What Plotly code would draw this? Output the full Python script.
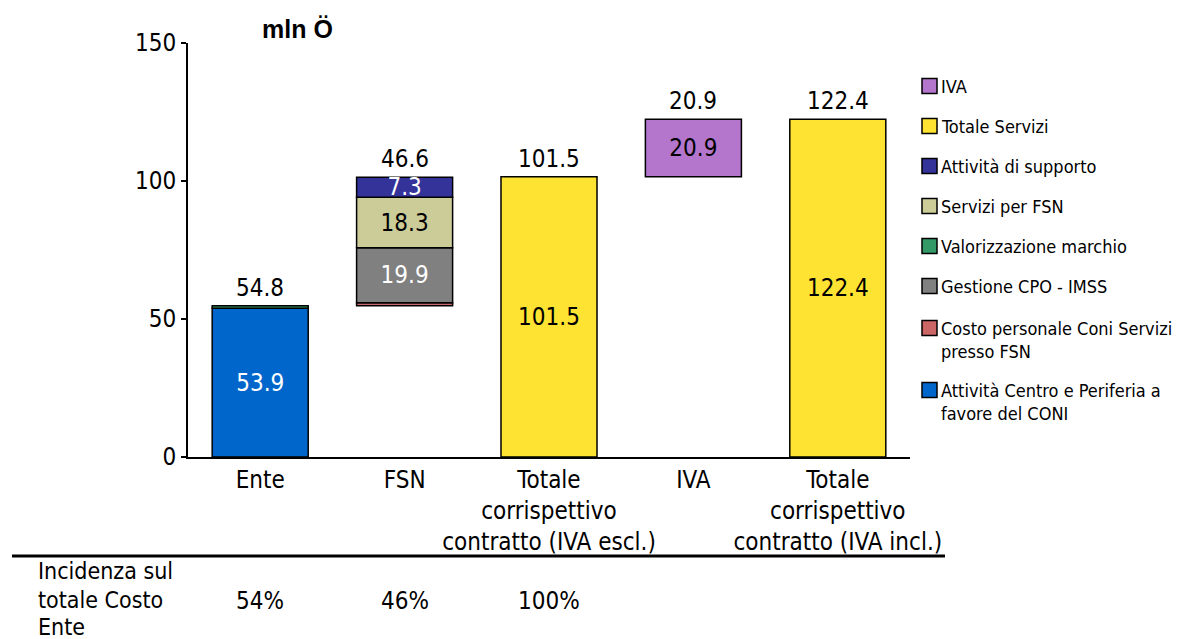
import plotly.graph_objects as go

# categories on the x axis
categories = ["Ente", "FSN", "Totale<br>corrispettivo<br>contratto (IVA escl.)",
              "IVA", "Totale<br>corrispettivo<br>contratto (IVA incl.)"]

# segment values (mln)
attivita_centro = [53.9, None, None, None, None]
valorizzazione = [0.9, None, None, None, None]
costo_personale = [None, 1.1, None, None, None]
gestione_cpo = [None, 19.9, None, None, None]
servizi_fsn = [None, 18.3, None, None, None]
attivita_supporto = [None, 7.3, None, None, None]
totale_servizi = [None, None, 101.5, None, 122.4]
iva = [None, None, None, 20.9, None]

# labels written above each column
totals = [54.8, 46.6, 101.5, 20.9, 122.4]
incidenza = ["54%", "46%", "100%"]
incidenza_label = ["Incidenza sul", "totale Costo", "Ente"]

FONT = "DejaVu Sans Condensed, DejaVu Sans, sans-serif"

# series in stacking order (bottom -> top); name, values, color, text color, show text
series = [
    ("Attività Centro e Periferia a<br>favore del CONI", attivita_centro, "#0066CC", "white", True),
    ("Valorizzazione marchio", valorizzazione, "#339966", "white", False),
    ("Costo personale Coni Servizi<br>presso FSN", costo_personale, "#CC6666", "white", False),
    ("Gestione CPO - IMSS", gestione_cpo, "#808080", "white", True),
    ("Servizi per FSN", servizi_fsn, "#CCCC99", "black", True),
    ("Attività di supporto", attivita_supporto, "#333399", "white", True),
    ("Totale Servizi", totale_servizi, "#FFE333", "black", True),
    ("IVA", iva, "#B376CC", "black", True),
]
# order of the entries in the legend (top -> bottom)
legend_order = ["IVA", "Totale Servizi", "Attività di supporto", "Servizi per FSN",
                "Valorizzazione marchio", "Gestione CPO - IMSS",
                "Costo personale Coni Servizi<br>presso FSN",
                "Attività Centro e Periferia a<br>favore del CONI"]

xs = list(range(len(categories)))

# waterfall: FSN starts at the top of Ente, IVA on top of the excl. total
level = [0.0] * len(categories)
level[1] = attivita_centro[0] + valorizzazione[0]
level[3] = totale_servizi[2]

fig = go.Figure()
tops = list(level)
for name, vals, color, tcolor, show_text in series:
    bx, by, bb, bt = [], [], [], []
    for i, v in enumerate(vals):
        if v is None:
            continue
        bx.append(i)
        by.append(v)
        bb.append(tops[i])
        bt.append(f"{v:.1f}" if show_text else "")
        tops[i] += v
    fig.add_trace(go.Bar(
        x=bx, y=by, base=bb, name=name,
        width=0.665,
        marker=dict(color=color, line=dict(color="black", width=1.5)),
        text=bt, textposition="inside", insidetextanchor="middle",
        textangle=0, constraintext="none",
        textfont=dict(color=tcolor, size=24, family=FONT),
        cliponaxis=False, showlegend=False,
    ))

shapes = []
annotations = []

# totals above the columns
for i, t in enumerate(totals):
    annotations.append(dict(text=f"{t:.1f}", x=i, y=tops[i], xref="x", yref="y",
                            xanchor="center", yanchor="bottom", yshift=2,
                            showarrow=False,
                            font=dict(size=24, family=FONT, color="black")))

# hand-made legend on the right (pixel positions relative to the plot box)
colors = {s[0]: s[2] for s in series}
row_y = [86, 126, 166, 206, 246, 286, 328, 390]
for name, py in zip(legend_order, row_y):
    y0 = (457 - py) / 414
    shapes.append(dict(type="rect", xref="paper", yref="paper",
                       x0=(922 - 188) / 722, x1=(937 - 188) / 722,
                       y0=y0 - 7.5 / 414, y1=y0 + 7.5 / 414,
                       fillcolor=colors[name], line=dict(color="black", width=1.5)))
    annotations.append(dict(text=name, xref="paper", yref="paper",
                            x=(939 - 188) / 722, y=y0 + 12 / 414,
                            xanchor="left", yanchor="top", align="left",
                            showarrow=False,
                            font=dict(size=18, family=FONT, color="black")))

# separator line of the table below the chart
shapes.append(dict(type="line", xref="paper", yref="paper",
                   x0=(12 - 188) / 722, x1=(945 - 188) / 722,
                   y0=(457 - 556) / 414, y1=(457 - 556) / 414,
                   line=dict(color="black", width=3)))

for line, py in zip(incidenza_label, [571, 600, 627]):
    annotations.append(dict(text=line, xref="paper", yref="paper",
                            x=(36 - 188) / 722, y=(457 - py) / 414,
                            xanchor="left", yanchor="middle",
                            showarrow=False,
                            font=dict(size=23, family=FONT, color="black")))
for i, txt in enumerate(incidenza):
    annotations.append(dict(text=txt, xref="x", yref="paper",
                            x=i, y=(457 - 601) / 414,
                            xanchor="center", yanchor="middle",
                            showarrow=False,
                            font=dict(size=24, family=FONT, color="black")))

annotations.append(dict(text="<b>mln Ö</b>", xref="paper", yref="paper",
                        x=(260 - 188) / 722, y=(457 - 29) / 414,
                        xanchor="left", yanchor="middle", showarrow=False,
                        font=dict(size=25, family="Liberation Sans, Arial", color="black")))

fig.update_layout(
    width=1180, height=631,
    margin=dict(l=180, r=278, t=35, b=182),
    barmode="overlay",
    plot_bgcolor="white", paper_bgcolor="white",
    font=dict(family=FONT, size=24, color="black"),
    uniformtext=dict(minsize=24, mode="show"),
    shapes=shapes, annotations=annotations,
    xaxis=dict(range=[-0.5, 4.5], tickvals=xs, ticktext=categories,
               showline=True, linecolor="black", linewidth=2,
               showgrid=False, zeroline=False, ticks=""),
    yaxis=dict(range=[0, 150], tickvals=[0, 50, 100, 150],
               showline=True, linecolor="black", linewidth=2,
               ticks="outside", ticklen=5, tickwidth=2, tickcolor="black",
               showgrid=False, zeroline=False),
)

fig.write_html("out.html")
